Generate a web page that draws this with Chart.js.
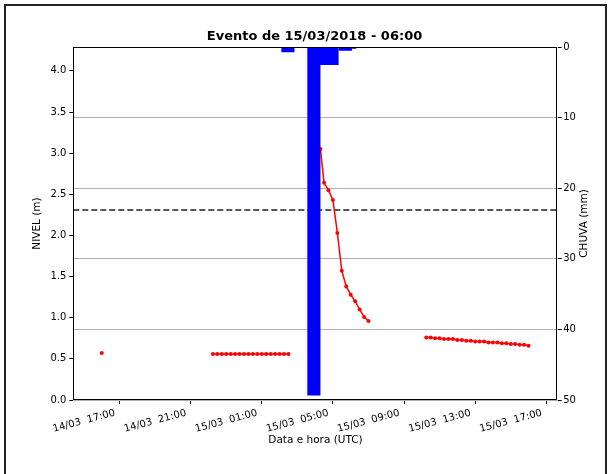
<!DOCTYPE html>
<html>
<head>
<meta charset="utf-8">
<script src="https://cdn.jsdelivr.net/npm/chart.js@4.4.0/dist/chart.umd.min.js"></script>
<style>
  html, body { margin: 0; padding: 0; background: #fff; overflow: hidden; }
  #frame { position: absolute; left: 4px; top: 4px; width: 599px; height: 480px; border: 2px solid #222; border-bottom: none; }
  #wrap { position: absolute; left: 0; top: 0; width: 609px; height: 474px; }
</style>
</head>
<body>
<div id="frame"></div>
<div id="wrap"><canvas id="chart"></canvas></div>
<script>
// hours relative to 15/03 00:00
const tickHours = [-7, -3, 1, 5, 9, 13, 17];
const tickLabels = ['14/03  17:00', '14/03  21:00', '15/03  01:00', '15/03  05:00', '15/03  09:00', '15/03  13:00', '15/03  17:00'];
const xMin = -7.6;
const xMax = 19.64;

// river level (m), null = gap
const levelTimes = [
  -6.0, -3.0,
  0.25, 0.5, 0.75, 1.0, 1.25, 1.5, 1.75, 2.0, 2.25, 2.5, 2.75, 3.0, 3.25, 3.5, 3.75, 4.0, 4.25, 4.5,
  5.5,
  6.3, 6.5, 6.75, 7.0, 7.25, 7.5, 7.75, 8.0, 8.25, 8.5, 8.75, 9.0,
  10.5,
  12.25, 12.5, 12.75, 13.0, 13.25, 13.5, 13.75, 14.0, 14.25, 14.5, 14.75, 15.0,
  15.25, 15.5, 15.75, 16.0, 16.25, 16.5, 16.75, 17.0, 17.25, 17.5, 17.75, 18.0
];
const levelValues = [
  0.57, null,
  0.56, 0.56, 0.56, 0.56, 0.56, 0.56, 0.56, 0.56, 0.56, 0.56, 0.56, 0.56, 0.56, 0.56, 0.56, 0.56, 0.56, 0.56,
  null,
  3.05, 2.64, 2.55, 2.43, 2.03, 1.57, 1.38, 1.28, 1.20, 1.10, 1.01, 0.96,
  null,
  0.76, 0.76, 0.75, 0.75, 0.74, 0.74, 0.74, 0.73, 0.73, 0.72, 0.72, 0.71,
  0.71, 0.71, 0.70, 0.70, 0.70, 0.69, 0.69, 0.68, 0.68, 0.67, 0.67, 0.66
];
const alertLevel = 2.31;

// rain (mm)
const rainTimes = [4.47, 5.93, 6.62, 6.95, 7.70, 7.94];
const rainValues = [0.7, 49.3, 2.5, 2.5, 0.5, 0.2];

const font = { family: 'DejaVu Sans', size: 10 };
const labelFont = { family: 'DejaVu Sans', size: 10.5 };

// plot frame + right axis label (matplotlib writes it bottom-to-top)
const framePlugin = {
  id: 'frame',
  afterDatasetsDraw(chart) {
    const a = chart.chartArea, ctx = chart.ctx;
    ctx.save();
    ctx.strokeStyle = '#000';
    ctx.lineWidth = 1;
    ctx.strokeRect(Math.round(a.left) + 0.5, Math.round(a.top) + 0.5,
      Math.round(a.right - a.left) - 1, Math.round(a.bottom - a.top) - 1);
    ctx.restore();
  },
  afterDraw(chart) {
    const a = chart.chartArea, ctx = chart.ctx;
    ctx.save();
    ctx.translate(chart.scales.y1.right - 25, (a.top + a.bottom) / 2);
    ctx.rotate(-Math.PI / 2);
    ctx.fillStyle = '#000';
    ctx.font = labelFont.size + 'px "' + labelFont.family + '"';
    ctx.textAlign = 'center';
    ctx.textBaseline = 'middle';
    ctx.fillText('CHUVA (mm)', 0, 0);
    ctx.restore();
  }
};

new Chart(document.getElementById('chart'), {
  type: 'line',
  data: {
    datasets: [
      {
        type: 'bar',
        data: rainTimes.map((t, i) => ({ x: t, y: rainValues[i] })),
        yAxisID: 'y1',
        backgroundColor: '#0000ff',
        borderWidth: 0,
        barThickness: 12.5,
        order: 0
      },
      {
        data: levelTimes.map((t, i) => ({ x: t, y: levelValues[i] })),
        yAxisID: 'y',
        borderColor: '#ff0000',
        backgroundColor: '#ff0000',
        borderWidth: 1.5,
        pointRadius: 2,
        pointBorderWidth: 0,
        tension: 0,
        spanGaps: false,
        order: 1
      },
      {
        data: [{ x: xMin, y: alertLevel }, { x: xMax, y: alertLevel }],
        yAxisID: 'y',
        borderColor: '#222',
        borderWidth: 1.5,
        borderDash: [6, 3],
        pointRadius: 0,
        order: 2
      }
    ]
  },
  options: {
    responsive: true,
    maintainAspectRatio: false,
    animation: false,
    layout: { padding: { top: 20, left: 20, right: 0, bottom: 20 } },
    plugins: {
      legend: { display: false },
      tooltip: { enabled: false },
      title: {
        display: true,
        text: 'Evento de 15/03/2018 - 06:00',
        color: '#000',
        font: { family: 'DejaVu Sans', size: 13, weight: 'bold' },
        padding: { top: 9.2, bottom: 2.2 }
      }
    },
    scales: {
      x: {
        type: 'linear',
        min: xMin,
        max: xMax,
        offset: false,
        border: { display: false },
        grid: { drawOnChartArea: false, tickColor: '#000', tickLength: 4 },
        afterBuildTicks: axis => { axis.ticks = tickHours.map(v => ({ value: v })); },
        afterFit: s => { s.height = 54; s.paddingLeft = 0; s.paddingRight = 0; },
        ticks: {
          autoSkip: false,
          minRotation: 15,
          maxRotation: 15,
          labelOffset: 31,
          padding: 3,
          color: '#000',
          font: font,
          callback: v => tickLabels[tickHours.indexOf(v)]
        },
        title: { display: true, text: 'Data e hora (UTC)', color: '#000', font: labelFont, padding: { top: 0, bottom: 7 } }
      },
      y: {
        position: 'left',
        min: 0,
        max: 4.29,
        border: { display: false },
        grid: { drawOnChartArea: false, tickColor: '#000', tickLength: 4 },
        afterFit: s => { s.width = 53.3; s.paddingTop = 0; s.paddingBottom = 0; },
        ticks: {
          stepSize: 0.5,
          includeBounds: false,
          padding: 3,
          color: '#000',
          font: font,
          callback: v => v.toFixed(1)
        },
        title: { display: true, text: 'NIVEL (m)', color: '#000', font: labelFont, padding: { top: 11, bottom: 0 } }
      },
      y1: {
        position: 'right',
        min: 0,
        max: 50,
        reverse: true,
        border: { display: false },
        grid: { color: '#b0b0b0', lineWidth: 1, tickColor: '#000', tickLength: 4 },
        afterFit: s => { s.width = 51.3; s.paddingTop = 0; s.paddingBottom = 0; },
        ticks: { stepSize: 10, padding: 1.5, color: '#000', font: font },
        title: { display: false }
      }
    }
  },
  plugins: [framePlugin]
});
</script>
</body>
</html>
